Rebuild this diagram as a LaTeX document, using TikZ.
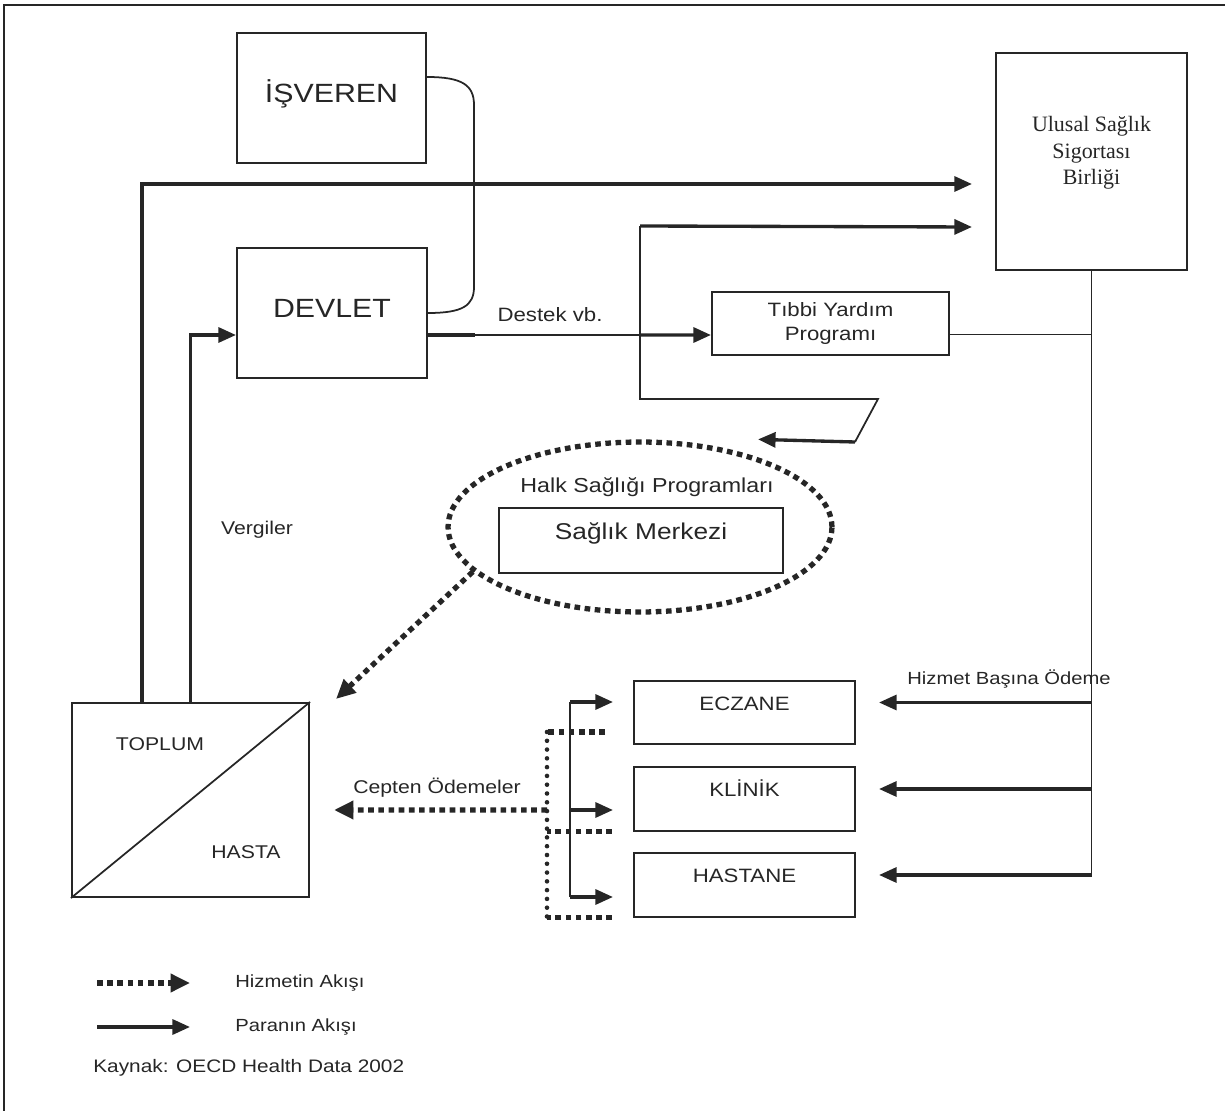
\documentclass[tikz,border=0pt]{standalone}
\usepackage{fontspec}
\setmainfont{Liberation Sans}[FakeStretch=1.15]
\newfontfamily\ulusalfont{Liberation Serif}
\usepackage{tikz}
\usetikzlibrary{arrows.meta, positioning, shapes.geometric, calc}
\definecolor{ink}{HTML}{262626}
\newcommand{\sz}[2]{\fontsize{#1}{#2}\selectfont}

\begin{document}
\begin{tikzpicture}[x=0.02cm, y=-0.02cm, ink,
    every node/.style={inner sep=0pt},
    box/.style={draw, line width=1.2pt},
    wire/.style={line width=1pt},
    money/.style={line width=1.9pt, -{Triangle[length=10pt,width=8.5pt]}},
    servline/.style={line width=3pt, dash pattern=on 3.2pt off 2.6pt},
    service/.style={servline, -{Triangle[length=11pt,width=10pt]}},
    dots/.style={line width=2.6pt, line cap=round, dash pattern=on 0pt off 5pt}]

    \useasboundingbox (0,0) rectangle (1225,1111);

    %% ── Page frame ────────────────────────────────────────────────────────
    \draw[line width=1.2pt] (4,1111) |- (1225,5);

    %% ── Payers ────────────────────────────────────────────────────────────
    \node[box, minimum width=3.78cm, minimum height=2.6cm, font=\sz{15}{18},
      text height=10.7pt, text depth=5.1pt] (isveren) at (331.5,98) {İŞVEREN};
    \node[box, minimum width=3.8cm, minimum height=2.6cm, font=\sz{15}{18},
      text height=10.7pt, text depth=5.1pt] (devlet) at (332,313) {DEVLET};

    \node[box, minimum width=3.82cm, minimum height=4.34cm,
      label={[font=\ulusalfont\sz{12.5}{15}, align=center, yshift=0.17cm]center:{Ulusal Sağlık\\Sigortası\\Birliği}}]
      (ulusal) at (1091.5,161.5) {};

    \node[box, minimum width=4.74cm, minimum height=1.26cm, align=center,
      font=\sz{11}{14.2}] (tibbi) at (830.5,323.5) {Tıbbi Yardım\\Programı};

    %% ── Public health ─────────────────────────────────────────────────────
    \node[draw, ellipse, servline, minimum width=7.68cm, minimum height=3.4cm]
      (halk) at (640,527) {};
    \node[font=\sz{11.5}{14}] (halktxt) at (647,487) {Halk Sağlığı Programları};
    \node[box, minimum width=5.68cm, minimum height=1.3cm, font=\sz{13}{16},
      text height=9.3pt, text depth=10.2pt] (saglik) at (641,540.5) {Sağlık Merkezi};

    %% ── Providers ─────────────────────────────────────────────────────────
    \foreach \name/\txt/\y in {eczane/ECZANE/712.5, klinik/KLİNİK/799, hastane/HASTANE/885}
      \node[box, minimum width=4.42cm, minimum height=1.27cm, font=\sz{11}{13},
        text height=7.9pt, text depth=10.2pt] (\name) at (744.5,\y) {\txt};

    %% ── Society / patient ─────────────────────────────────────────────────
    \node[box, minimum width=4.74cm, minimum height=3.88cm] (toplum) at (190.5,800) {};
    \draw[wire] (toplum.south west) -- (toplum.north east);
    \node[font=\sz{10.5}{12}] (toplumtxt) at (160,744) {TOPLUM};
    \node[font=\sz{10.5}{12}] (hasta) at (246,852) {HASTA};

    %% ── Money flows, top ──────────────────────────────────────────────────
    \draw[wire] ($(isveren.east)+(0,-21)$) .. controls (462,77) and (474,85) .. (474,105)
      -- (474,287) .. controls (474,306) and (462,313) .. (devlet.east);

    \draw[money] ($(toplum.north west)+(71,0)$) |- ($(ulusal.west)+(-23,22.5)$);
    \draw[money] (toplum.north) |- ($(devlet.west)+(0,22)$);
    \node[font=\sz{10.5}{12}] (vergiler) at (257,530) {Vergiler};

    \coordinate (split) at (640,335);
    \draw[wire] ($(devlet.east)+(0,22)$) -- (split);
    \draw[line width=1.9pt] ($(devlet.east)+(0,22)$) -- ++(47,0);
    \draw[money] (split) -- ($(tibbi.west)+(0,11.5)$);
    \node[font=\sz{11}{13}] (destek) at (550,315) {Destek vb.};

    \draw[wire] (split) -- (640,226);
    \draw[money] (640,226) -- ($(ulusal.west)+(-23,65.5)$);
    \draw[wire] (split) |- (878,399) -- (855,442);
    \draw[money] (855,442) -- ($(halk.north)+(118,0)$);

    %% ── Insurance payments ────────────────────────────────────────────────
    \draw[wire] (ulusal.south) -- ($(hastane.east -| ulusal.south)+(0,-10)$);
    \draw[wire] ($(tibbi.east)+(0,11)$) -- ($(tibbi.east -| ulusal.south)+(0,11)$);
    \foreach \name in {eczane, klinik, hastane}
      \draw[money] ($(\name.east -| ulusal.south)+(0,-10)$) -- ($(\name.east)+(23,-10)$);
    \node[font=\sz{10}{12}, anchor=east] (hizmetbasina) at (1111,679) {Hizmet Başına Ödeme};

    %% ── Service flows ─────────────────────────────────────────────────────
    \draw[service] (halk.195) -- ([xshift=0.52cm, yshift=0.06cm]toplum.north east);

    \coordinate (pocket) at (547,810);
    \draw[dots] (547,732) -- (547,917);
    \draw[servline] (605,732) -- (547,732);
    \draw[servline] ($(klinik.south west)+(-21,0)$) -- (klinik.south west -| pocket);
    \draw[servline] ($(hastane.south west)+(-21,0)$) -- (hastane.south west -| pocket);
    \draw[service] (pocket) -- ([xshift=0.48cm, yshift=-0.2cm]toplum.east);
    \node[font=\sz{10.5}{12}] (cepten) at (437,788) {Cepten Ödemeler};

    %% provider fork
    \draw[wire] (570,702) -- (570,897);
    \draw[money] (570,702) -- ($(eczane.west)+(-20,-10.5)$);
    \draw[money] (570,810) -- ($(klinik.west)+(-20,11)$);
    \draw[money] (570,897) -- ($(hastane.west)+(-20,12)$);

    %% ── Legend ────────────────────────────────────────────────────────────
    \node[font=\sz{10}{12}, anchor=west] (hizmetakisi) at (235,983) {Hizmetin Akışı};
    \node[font=\sz{10}{12}, anchor=west] (paraakisi) at (235,1027) {Paranın Akışı};
    \draw[service, shorten >=0.9cm] ($(hizmetakisi.west)+(-138,0)$) -- (hizmetakisi.west);
    \draw[money, shorten >=0.9cm] ($(paraakisi.west)+(-138,0)$) -- (paraakisi.west);
    \node[font=\sz{10.3}{12}, anchor=west] (kaynak) at (93,1068) {Kaynak: OECD Health Data 2002};

\end{tikzpicture}
\end{document}
